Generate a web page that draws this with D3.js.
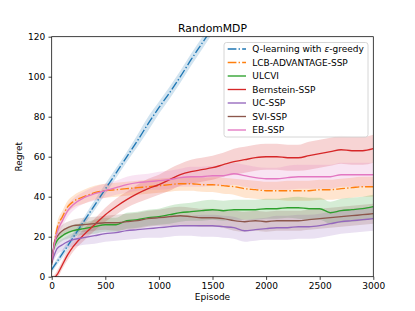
<!DOCTYPE html>
<html>
<head>
<meta charset="utf-8">
<script src="https://cdn.jsdelivr.net/npm/d3@7"></script>
<style>
  body { margin: 0; background: #fff; }
  text { font-family: "DejaVu Sans", sans-serif; fill: #000; }
</style>
</head>
<body>
<script>
'use strict';

var width = 415,
    height = 311;

var margin = {top: 36.7, right: 41.7, bottom: 34.3, left: 51.7};

var episodes = [0, 25, 50, 100, 150, 200, 300, 400, 500, 600, 700, 800, 900, 1000,
  1100, 1200, 1300, 1400, 1500, 1600, 1700, 1800, 1900, 2000, 2100, 2200, 2300,
  2400, 2500, 2600, 2700, 2800, 2900, 3000];

var seriesNames = ['Q-learning with ε-greedy', 'LCB-ADVANTAGE-SSP', 'ULCVI',
  'Bernstein-SSP', 'UC-SSP', 'SVI-SSP', 'EB-SSP'];

var qlearning = [3.5, 5.5, 7.5, 11.5, 15.5, 19.6, 27.7, 35.7, 43.8, 51.8, 59.9, 68, 76.5, 84.5,
  92, 100, 108.5, 116.5, 124.5, 132.5, 140.5, 148.5, 156.5, 164.5, 172.5, 180.5, 188.5,
  196.5, 204.5, 212.5, 220.5, 228.5, 236.5, 244.5];
var qlearningErr = [1.5, 1.5, 1.5, 2, 2, 2, 2, 2.5, 2.5, 2.5, 2.5, 3, 3.5, 3, 3, 3, 3, 3, 3,
  3, 3, 3, 3, 3, 3, 3, 3, 3, 3, 3, 3, 3, 3, 3];

var lcb = [7, 17, 24, 30, 35, 37.5, 40, 42, 43, 43.5, 44, 44.5, 45, 45.5,
  46, 46.5, 46.5, 46, 46, 45.5, 45, 44, 43.5, 43, 43, 43, 43,
  43, 43.5, 43.5, 44, 44.5, 45, 45];
var lcbErr = [2, 3, 3, 3, 3, 3, 3.5, 3.5, 3.5, 3.5, 3.5, 3.5, 3.5, 3.5, 3.5, 3.5, 3.5, 3.5,
  3.7, 4, 4, 4.5, 4.5, 4.5, 4.5, 5, 5, 5, 5, 5, 5, 5, 5, 5];

var ulcvi = [10, 15, 18, 20.5, 22, 23, 24, 25, 26, 26, 28, 28.5, 29.5, 30,
  31, 32, 32.5, 33, 33.5, 33, 33.5, 33.5, 33.5, 34, 34, 34.5, 34.5,
  34, 34, 32, 33, 33.5, 34, 35];
var ulcviErr = [2, 2, 2.5, 2.5, 3, 3, 3, 3.5, 3.5, 3.5, 4, 4, 4, 4, 4.5, 4.5, 4.5, 5,
  5, 5, 5, 5, 5, 5, 5, 5, 5.5, 5.5, 5.5, 5.5, 6, 6, 6, 6];

var bernstein = [-1, -0.5, 1, 6, 11, 15, 21, 26, 31, 35, 38.5, 41.5, 44, 46,
  48.5, 51, 52.5, 53.5, 54.5, 56, 57.5, 58.5, 59.5, 60, 60, 59.5, 59.5,
  60.5, 61.5, 62.5, 63.5, 63, 63, 64];
var bernsteinErr = [1.5, 1.5, 2, 2, 2.5, 2.5, 3, 3, 3.5, 4, 4, 4.5, 5, 5, 5.5, 5.5, 6, 6,
  6, 6, 6.5, 6.5, 6.5, 6.5, 6.5, 6.5, 6.5, 7, 7, 7, 7, 7, 7, 7];

var ucssp = [7, 11, 14, 16, 17.5, 18.5, 19.5, 20.5, 21.5, 22, 23, 23.5, 24, 24.5,
  25, 25.5, 25.5, 25.5, 25.5, 25, 24.5, 23, 23.5, 24, 24.5, 24.5, 25,
  25, 25.5, 26.5, 27.5, 28, 28.5, 29];
var ucsspErr = [2, 2.5, 3, 3, 3, 3.5, 3.5, 4, 4, 4, 4.5, 4.5, 4.5, 5, 5, 5, 5, 5.5,
  5.5, 5.5, 5.5, 5.5, 5.5, 5.5, 6, 6, 6, 6, 6, 6, 6, 6, 6, 6];

var svissp = [6, 17, 20, 23, 24.5, 25.5, 26, 26.5, 27, 27, 27.5, 28, 29, 29.5,
  30, 30.5, 30, 29.5, 29.5, 29, 28, 27.5, 28, 27.5, 28, 28, 28,
  28.5, 29, 29.5, 30, 30.5, 31, 31.5];
var svisspErr = [2, 2.5, 3, 3, 3, 3, 3.5, 3.5, 3.5, 4, 4, 4, 4, 4, 4.5, 4.5, 4.5, 4.5,
  4.5, 4.5, 5, 5, 5, 5, 5, 5, 5, 5, 5, 5, 5, 5, 5, 5];

var ebssp = [8, 16, 22, 28, 33, 36, 39.5, 41.5, 43, 44.5, 46, 47, 47.5, 48,
  48.5, 49.5, 50, 50, 50.5, 50.5, 51.5, 50.5, 49.5, 49, 49, 49.5, 50,
  50, 50, 50, 51, 51, 51, 51];
var ebsspErr = [2, 2.5, 3, 3, 3, 3, 3, 3.5, 3.5, 3.5, 4, 4, 4, 4.5, 4.5, 4.5, 5, 5,
  5, 5, 5.5, 5.5, 5.5, 5.5, 5.5, 6, 6, 6, 6, 6, 6, 6, 6, 6];

var xTicks = [0, 500, 1000, 1500, 2000, 2500, 3000];
var yTicks = [0, 20, 40, 60, 80, 100, 120];

var colors = ['#1f77b4', '#ff7f0e', '#2ca02c', '#d62728', '#9467bd', '#8c564b', '#e377c2'];
var dashes = ['8.7,2.2,1.35,2.2', '8.7,2.2,1.35,2.2', null, null, null, null, null];

var means = [qlearning, lcb, ulcvi, bernstein, ucssp, svissp, ebssp];
var errs = [qlearningErr, lcbErr, ulcviErr, bernsteinErr, ucsspErr, svisspErr, ebsspErr];

var series = seriesNames.map(function(name, i) {
  return {
    name: name,
    color: colors[i],
    dash: dashes[i],
    points: episodes.map(function(e, j) {
      return {x: e, y: means[i][j], lo: means[i][j] - errs[i][j], hi: means[i][j] + errs[i][j]};
    })
  };
});

var svg = d3.select('body').append('svg')
    .attr('width', width)
    .attr('height', height);

var pw = width - margin.left - margin.right,
    ph = height - margin.top - margin.bottom;

var x = d3.scaleLinear().domain([0, 3000]).range([margin.left, margin.left + pw]);
var y = d3.scaleLinear().domain([0, 120]).range([margin.top + ph, margin.top]);

svg.append('clipPath').attr('id', 'clip')
  .append('rect')
    .attr('x', margin.left).attr('y', margin.top)
    .attr('width', pw).attr('height', ph);

var plot = svg.append('g').attr('clip-path', 'url(#clip)');

var area = d3.area()
    .x(function(d) { return x(d.x); })
    .y0(function(d) { return y(d.lo); })
    .y1(function(d) { return y(d.hi); })
    .curve(d3.curveMonotoneX);

var line = d3.line()
    .x(function(d) { return x(d.x); })
    .y(function(d) { return y(d.y); })
    .curve(d3.curveMonotoneX);

plot.selectAll('path.band')
    .data(series)
  .enter().append('path')
    .attr('class', 'band')
    .attr('d', function(d) { return area(d.points); })
    .attr('fill', function(d) { return d.color; })
    .attr('fill-opacity', 0.2);

plot.selectAll('path.line')
    .data(series)
  .enter().append('path')
    .attr('class', 'line')
    .attr('d', function(d) { return line(d.points); })
    .attr('fill', 'none')
    .attr('stroke', function(d) { return d.color; })
    .attr('stroke-width', 1.35)
    .attr('stroke-dasharray', function(d) { return d.dash; });

// axes
var xAxis = svg.append('g')
    .attr('transform', 'translate(0,' + (margin.top + ph) + ')')
    .call(d3.axisBottom(x).tickValues(xTicks).tickFormat(d3.format('d'))
      .tickSize(3.2).tickPadding(3.2));
var yAxis = svg.append('g')
    .attr('transform', 'translate(' + margin.left + ',0)')
    .call(d3.axisLeft(y).tickValues(yTicks).tickFormat(d3.format('d'))
      .tickSize(3.2).tickPadding(3.2));

[xAxis, yAxis].forEach(function(a) {
  a.select('.domain').remove();
  a.selectAll('.tick line').attr('stroke', '#000').attr('stroke-width', 0.75);
  a.selectAll('.tick text').attr('font-size', 9).attr('font-family', 'DejaVu Sans');
});

svg.append('rect')
    .attr('x', margin.left).attr('y', margin.top)
    .attr('width', pw).attr('height', ph)
    .attr('fill', 'none')
    .attr('stroke', '#000')
    .attr('stroke-width', 0.75);

svg.append('text')
    .attr('x', margin.left + pw / 2).attr('y', 32)
    .attr('text-anchor', 'middle')
    .attr('font-size', 10.8)
    .text('RandomMDP');

svg.append('text')
    .attr('x', margin.left + pw / 2).attr('y', 300)
    .attr('text-anchor', 'middle')
    .attr('font-size', 9)
    .text('Episode');

svg.append('text')
    .attr('transform', 'translate(22,' + (margin.top + ph / 2) + ') rotate(-90)')
    .attr('text-anchor', 'middle')
    .attr('font-size', 9)
    .text('Regret');

// legend
var legend = svg.append('g');
legend.append('rect')
    .attr('x', 224).attr('y', 42.5)
    .attr('width', 144).attr('height', 94.5)
    .attr('rx', 2.5)
    .attr('fill', '#fff').attr('fill-opacity', 0.8)
    .attr('stroke', '#ccc').attr('stroke-width', 0.8);

var item = legend.selectAll('g.item')
    .data(series)
  .enter().append('g')
    .attr('class', 'item')
    .attr('transform', function(d, i) { return 'translate(0,' + (49 + i * 13.5) + ')'; });

item.append('line')
    .attr('x1', 227.7).attr('x2', 246)
    .attr('stroke', function(d) { return d.color; })
    .attr('stroke-width', 1.35)
    .attr('stroke-dasharray', function(d) { return d.dash; });

item.append('text')
    .attr('x', 252.3).attr('y', 3.2)
    .attr('font-size', 9)
    .each(function(d) {
      var t = d3.select(this);
      var k = d.name.indexOf('ε');
      if (k < 0) { t.text(d.name); return; }
      t.append('tspan').text(d.name.slice(0, k));
      t.append('tspan').attr('font-style', 'italic').text('ε');
      t.append('tspan').text(d.name.slice(k + 1));
    });
</script>
</body>
</html>
